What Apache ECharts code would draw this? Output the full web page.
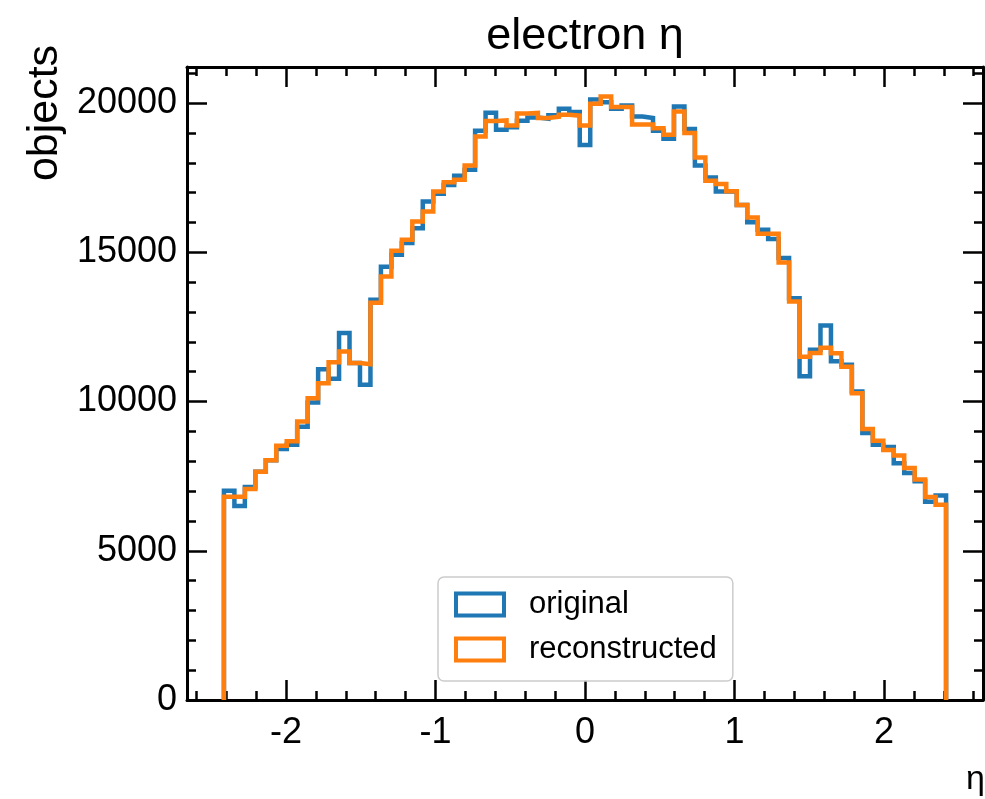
<!DOCTYPE html>
<html>
<head>
<meta charset="utf-8">
<script src="https://cdn.jsdelivr.net/npm/echarts@6/dist/echarts.min.js"></script>
<style>
  html, body { margin: 0; padding: 0; background: #fff; }
  #chart { width: 985px; height: 799px; }
</style>
</head>
<body>
<div id="chart"></div>
<script>
// 69 bins of width 0.07 from -2.415 to 2.415
const binStart = -2.415;
const binWidth = 0.07;

const original = [
  7010, 6500, 7140, 7650, 8030, 8410, 8550, 9160, 9970, 11080,
  10760, 12300, 11290, 10560, 13410, 14520, 14920, 15310, 15810, 16700,
  16960, 17260, 17570, 17770, 19070, 19680, 19110, 19190, 19410, 19520,
  19480, 19590, 19810, 19700, 18600, 20120, 20030, 19810, 19920, 19550,
  19500, 19070, 18810, 19890, 19130, 17910, 17510, 17040, 17040, 16590,
  16010, 15760, 15450, 14810, 13460, 10850, 11740, 12550, 11350, 11230,
  10340, 8950, 8550, 8480, 7930, 7610, 7330, 6640, 6850
];

const reconstructed = [
  6810, 6810, 7070, 7650, 8030, 8520, 8670, 9330, 10110, 10610,
  11320, 11680, 11290, 11250, 13310, 14190, 15050, 15420, 16030, 16370,
  17040, 17350, 17430, 17910, 18880, 19400, 19420, 19250, 19650, 19670,
  19500, 19540, 19610, 19580, 19250, 19980, 20220, 19870, 19870, 19280,
  19280, 19160, 18940, 19720, 19000, 18180, 17400, 17290, 17050, 16590,
  16170, 15620, 15620, 14660, 13350, 11500, 11630, 11800, 11620, 11170,
  10280, 9080, 8690, 8380, 8190, 7770, 7390, 6800, 6540
];

const xRange = [-2.662, 2.662];
const yRange = [0, 21210];

const FONT = '"Liberation Sans", Arial, Helvetica, sans-serif';

// outline of a step histogram: up at the first edge, down at the last
function stepData(values) {
  const pts = [[binStart, 0]];
  values.forEach((v, i) => pts.push([binStart + i * binWidth, v]));
  pts.push([binStart + values.length * binWidth, 0]);
  return pts;
}

const tickStyle = { color: '#000', width: 2.5 };

function axisBase(extra) {
  return Object.assign({
    type: 'value',
    axisLine: { show: true, onZero: false, lineStyle: { color: '#000', width: 3 } },
    axisTick: { show: true, inside: true, length: 20, lineStyle: tickStyle },
    minorTick: { show: true, splitNumber: 5, length: 9, lineStyle: tickStyle },
    splitLine: { show: false },
    minorSplitLine: { show: false }
  }, extra);
}

const chart = echarts.init(document.getElementById('chart'));

chart.setOption({
  animation: false,
  backgroundColor: '#fff',
  grid: { left: 187, right: 2, top: 67, bottom: 99, outerBoundsMode: 'none' },
  xAxis: [
    axisBase({
      position: 'bottom',
      min: xRange[0], max: xRange[1],
      axisLabel: {
        show: true, margin: 15, color: '#000', fontSize: 36, fontFamily: FONT,
        showMinLabel: false, showMaxLabel: false,
        formatter: v => String(v)
      }
    }),
    axisBase({
      position: 'top',
      min: xRange[0], max: xRange[1],
      axisLabel: { show: false }
    })
  ],
  yAxis: [
    axisBase({
      position: 'left',
      min: yRange[0], max: yRange[1],
      axisLabel: {
        show: true, margin: 10, color: '#000', fontSize: 36, fontFamily: FONT,
        showMaxLabel: false,
        formatter: v => String(v)
      }
    }),
    axisBase({
      position: 'right',
      min: yRange[0], max: yRange[1],
      axisLabel: { show: false }
    })
  ],
  legend: {
    orient: 'vertical',
    left: 438,
    top: 577,
    padding: [12, 16, 16, 16],
    itemGap: 14,
    itemWidth: 48,
    itemHeight: 22,
    selectedMode: false,
    backgroundColor: 'rgba(255,255,255,0.8)',
    borderColor: '#cccccc',
    borderWidth: 1.5,
    borderRadius: 6,
    textStyle: { color: '#000', fontSize: 31, fontFamily: FONT, padding: [0, 0, 0, 20] },
    data: [
      { name: 'original', icon: 'rect',
        itemStyle: { color: 'rgba(255,255,255,0)', borderColor: '#1f77b4', borderWidth: 4 } },
      { name: 'reconstructed', icon: 'rect',
        itemStyle: { color: 'rgba(255,255,255,0)', borderColor: '#ff7f0e', borderWidth: 4 } }
    ]
  },
  graphic: [
    { type: 'text', x: 585, y: 37,
      style: { text: 'electron η', fill: '#000', font: '45px ' + FONT, align: 'center', verticalAlign: 'middle' } },
    { type: 'text', x: 45, y: 113, rotation: Math.PI / 2,
      style: { text: 'objects', fill: '#000', font: '43px ' + FONT, align: 'center', verticalAlign: 'middle' } },
    { type: 'text', x: 985, y: 780,
      style: { text: 'η', fill: '#000', font: '34px ' + FONT, align: 'right', verticalAlign: 'middle' } }
  ],
  series: [
    {
      name: 'original',
      type: 'line',
      step: 'end',
      showSymbol: false,
      color: '#1f77b4',
      lineStyle: { color: '#1f77b4', width: 4.5, join: 'miter', cap: 'butt' },
      data: stepData(original),
      z: 2
    },
    {
      name: 'reconstructed',
      type: 'line',
      step: 'end',
      showSymbol: false,
      color: '#ff7f0e',
      lineStyle: { color: '#ff7f0e', width: 4.5, join: 'miter', cap: 'butt' },
      data: stepData(reconstructed),
      z: 3
    }
  ]
});
</script>
</body>
</html>
